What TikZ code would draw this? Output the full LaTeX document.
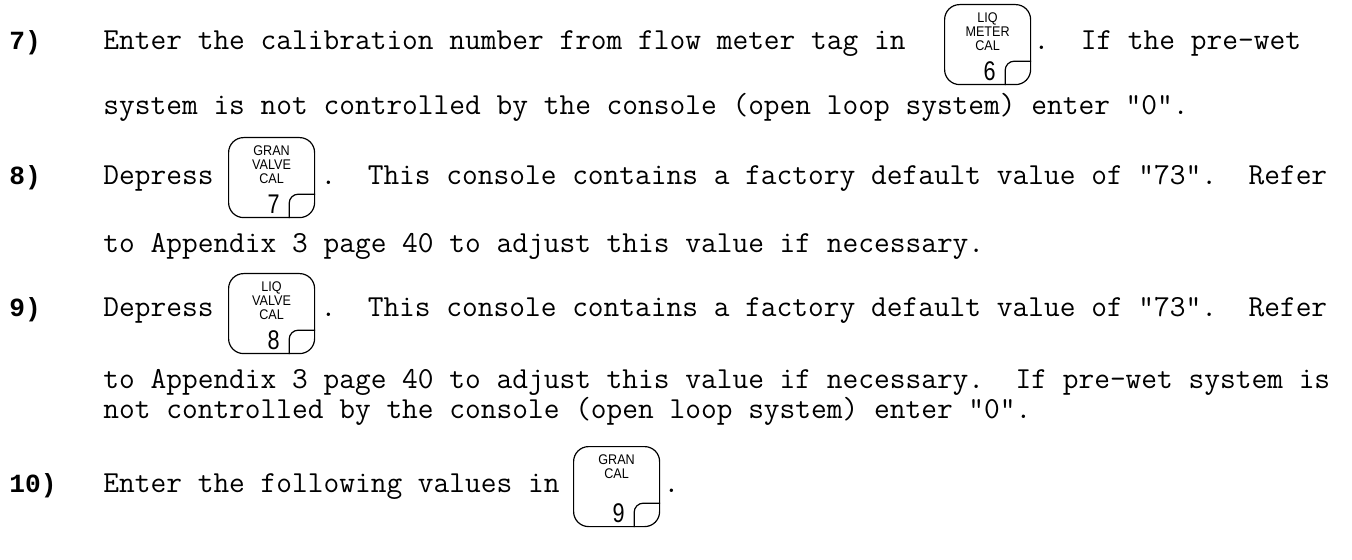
\documentclass[tikz,border=0pt]{standalone}
\usepackage{fontspec}
\newfontfamily\numfont{Liberation Mono}
\newfontfamily\keyfont[FakeStretch=0.9]{Liberation Sans}
\newfontfamily\digfont[FakeStretch=0.8]{Liberation Sans}
\usetikzlibrary{calc}
\tikzset{
  body/.style={anchor=base west, inner sep=0pt, font=\fontsize{15.27}{16}\ttfamily\frenchspacing},
  num/.style={anchor=base west, inner sep=0pt, font=\fontsize{13.1}{15}\numfont\bfseries},
  keybox/.style={draw, line width=0.6pt, rounded corners=7.5pt, minimum width=43pt, minimum height=40pt, inner sep=0pt, anchor=north west},
  keylab/.style={inner sep=0pt, align=center, font=\keyfont\fontsize{7}{7}\selectfont, anchor=north},
  keydig/.style={inner sep=0pt, font=\digfont\fontsize{13.5}{14}\selectfont, anchor=base},
  fold/.style={line width=0.6pt, rounded corners=4.5pt},
}
\newcommand\mykey[5]{%
  \node[keybox] (#1) at (#2,#3) {};
  \node[keylab] (#1l) at ([yshift=-4pt]#1.north) {#4};
  \node[keydig] (#1d) at ([xshift=1pt,yshift=2.5pt]#1.south) {#5};
  \draw[fold] ([xshift=-13pt]#1.south east) |- ([yshift=12pt]#1.south east);
}
\begin{document}
\begin{tikzpicture}[x=0.5pt,y=-0.5pt]
\useasboundingbox (0,0) rectangle (1352,560);
% step 7
\node[num] (n7) at (9,50) {7)};
\node[body] (t7a) at (103,50) {Enter the calibration number from flow meter tag in};
\mykey{k6}{944}{4}{LIQ\\METER\\CAL}{6}
\node[body] (t7b) at ($(k6.east |- t7a.base)+(2,0)$) {.\ \ If the pre-wet};
\node[body] (t7c) at (103,115) {system is not controlled by the console (open loop system) enter "0".};
% step 8
\node[num] (n8) at (9,185) {8)};
\node[body] (t8a) at (103,185) {Depress};
\mykey{k7}{228}{137}{GRAN\\VALVE\\CAL}{7}
\node[body] (t8b) at ($(k7.east |- t8a.base)+(5,0)$) {.\ \ This console contains a factory default value of "73".\ \ Refer};
\node[body] (t8c) at (103,253) {to Appendix 3 page 40 to adjust this value if necessary.};
% step 9
\node[num] (n9) at (9,317) {9)};
\node[body] (t9a) at (103,317) {Depress};
\mykey{k8}{228}{273}{LIQ\\VALVE\\CAL}{8}
\node[body] (t9b) at ($(k8.east |- t9a.base)+(5,0)$) {.\ \ This console contains a factory default value of "73".\ \ Refer};
\node[body] (t9c) at (103,388) {to Appendix 3 page 40 to adjust this value if necessary.\ \ If pre-wet system is};
\node[body] (t9d) at (103,418) {not controlled by the console (open loop system) enter "0".};
% step 10
\node[num] (n10) at (9,492) {10)};
\node[body] (t10a) at (103,492) {Enter the following values in};
\mykey{k9}{573}{446}{GRAN\\CAL}{9}
\node[body] (t10b) at ($(k9.east |- t10a.base)+(3,0)$) {.};
\end{tikzpicture}
\end{document}
